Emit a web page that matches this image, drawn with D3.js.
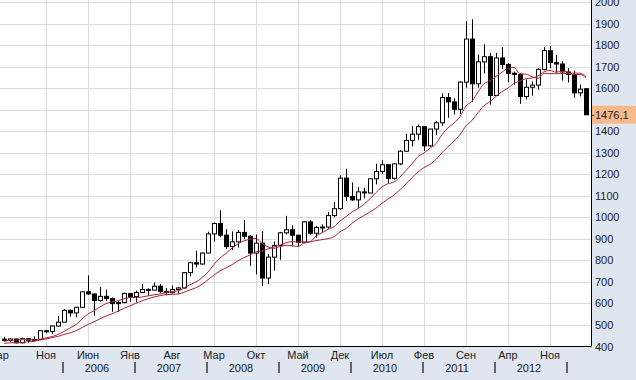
<!DOCTYPE html>
<html><head><meta charset="utf-8">
<script src="https://cdn.jsdelivr.net/npm/d3@7"></script>
<style>body{margin:0;background:#dfe6ef;}svg{display:block;font-family:"Liberation Sans",Arial,sans-serif;}</style>
</head><body>
<svg id="c" width="636" height="380"></svg>
<script>
const opens  = [434,428,435,417,436,429,433,473,470,495,513,568,556,582,654,644,614,633,623,599,604,646,632,651,665,662,680,656,650,665,672,743,789,783,834,923,971,917,864,886,930,912,834,880,718,815,869,928,942,917,884,979,926,953,955,1008,1040,1182,1097,1081,1118,1113,1179,1213,1244,1181,1248,1307,1357,1386,1421,1332,1410,1439,1556,1536,1502,1628,1828,1620,1722,1746,1566,1740,1710,1669,1664,1561,1604,1614,1687,1774,1719,1712,1675,1663,1578,1597];
const highs  = [445,438,436,441,439,447,474,477,497,541,574,572,584,654,730,646,677,664,627,613,650,647,659,690,670,697,691,671,683,676,746,794,845,837,933,975,1033,945,935,941,988,917,920,936,829,887,932,1007,963,918,982,989,961,967,1024,1071,1195,1226,1162,1141,1137,1180,1249,1265,1244,1251,1311,1388,1424,1431,1424,1411,1447,1575,1577,1553,1632,1911,1920,1755,1804,1763,1763,1791,1716,1677,1668,1640,1631,1692,1790,1796,1755,1725,1693,1681,1617,1600];
const lows   = [425,421,414,414,418,428,432,461,458,490,513,538,536,581,640,543,608,612,561,560,601,607,604,650,636,662,650,637,647,643,669,726,767,781,834,887,907,853,848,859,898,775,735,681,690,752,803,920,865,864,879,919,905,931,947,1001,1034,1076,1076,1044,1088,1112,1153,1202,1155,1175,1242,1305,1329,1360,1308,1328,1381,1425,1462,1477,1479,1602,1535,1602,1669,1523,1563,1688,1627,1616,1527,1547,1565,1592,1683,1692,1672,1635,1626,1555,1562,1476];
const closes = [428,435,417,436,429,433,473,470,495,513,568,556,582,654,644,614,633,623,599,604,646,632,651,665,662,680,656,650,665,672,743,789,783,834,923,971,917,864,886,930,912,834,880,718,815,869,928,942,917,884,979,926,953,955,1008,1040,1182,1097,1081,1118,1113,1179,1213,1244,1181,1248,1307,1357,1386,1421,1332,1410,1439,1556,1536,1502,1628,1828,1620,1722,1746,1566,1740,1710,1669,1664,1561,1604,1614,1687,1774,1719,1712,1675,1663,1578,1595,1476.1];
const maFast = [424,429,430,433,433,430,434,440,446,456,470,486,502,527,551,566,584,599,608,612,622,628,627,630,635,640,644,650,656,659,672,687,700,719,746,781,811,833,857,877,891,897,902,879,862,856,864,870,868,865,881,886,913,928,944,956,983,1003,1025,1040,1061,1086,1115,1141,1156,1164,1187,1218,1248,1282,1299,1321,1342,1384,1416,1438,1468,1517,1539,1582,1620,1634,1654,1674,1692,1696,1666,1665,1653,1646,1669,1667,1667,1668,1668,1670,1669,1653];
const maSlow = [415,417,418,419,422,424,430,435,441,447,456,463,473,488,502,515,528,542,552,564,578,589,601,612,622,630,636,641,642,644,652,663,673,689,710,732,751,765,780,798,813,825,840,844,853,862,871,882,887,885,885,886,892,896,901,910,933,948,972,992,1008,1025,1043,1065,1085,1103,1128,1155,1184,1211,1231,1246,1269,1300,1328,1354,1384,1425,1450,1486,1519,1537,1562,1584,1600,1622,1633,1644,1647,1657,1676,1682,1674,1678,1674,1662,1664,1647];
const monthLabels = [["Мар",0],["Ноя",8],["Июн",15],["Янв",22],["Авг",29],["Мар",36],["Окт",43],["Май",50],["Дек",57],["Июл",64],["Фев",71],["Сен",78],["Апр",85],["Ноя",92]];
const years = [["2006",10],["2007",22],["2008",34],["2009",46],["2010",58],["2011",70],["2012",82],["",94]];
const yTicks = [400,500,600,700,800,900,1000,1100,1200,1300,1400,1500,1600,1700,1800,1900,2000];
const lastLabel = "1476,1";

const svg = d3.select("#c");
const R = 591.5, B = 346.5;
const x = d3.scaleLinear().domain([0,97]).range([4,586]);
const y = d3.scaleLinear().domain([400,2000]).range([B,2]);
svg.append("rect").attr("x",0).attr("y",0).attr("width",R).attr("height",B).attr("fill","#fff");
const g = svg.append("g");
g.selectAll(".hg").data(yTicks.slice(1)).join("line").attr("x1",0).attr("x2",R).attr("y1",d=>Math.round(y(d))+0.5).attr("y2",d=>Math.round(y(d))+0.5).attr("stroke","#dcdcdc");
g.selectAll(".vg").data(monthLabels).join("line").attr("x1",d=>x(d[1]-1)+0.5).attr("x2",d=>x(d[1]-1)+0.5).attr("y1",0).attr("y2",B).attr("stroke","#dcdcdc");

closes.forEach((c,i)=>{
  const o=opens[i], up=c>=o, cx=Math.round(x(i))+0.5;
  g.append("line").attr("x1",cx).attr("x2",cx).attr("y1",y(highs[i])).attr("y2",y(lows[i])).attr("stroke","#000");
  const t=Math.min(y(o),y(c)), h=Math.max(1,Math.abs(y(o)-y(c)));
  g.append("rect").attr("x",cx-2).attr("y",t).attr("width",4).attr("height",h).attr("fill",up?"#fff":"#000").attr("stroke","#000").attr("stroke-width",1);
});
const line = d3.line().x((d,i)=>x(i)).y(d=>y(d)).curve(d3.curveMonotoneX);
[maSlow, maFast].forEach(m=>g.append("path").attr("d",line(m)).attr("fill","none").attr("stroke","#a8283a").attr("stroke-width",1));

svg.append("line").attr("x1",R).attr("x2",R).attr("y1",0).attr("y2",B).attr("stroke","#000");
svg.append("line").attr("x1",0).attr("x2",R).attr("y1",B).attr("y2",B).attr("stroke","#000");
svg.selectAll(".yl").data(yTicks.filter(d=>Math.abs(y(d)-y(1476.1))>12)).join("text").attr("x",595).attr("y",d=>y(d)+4).attr("font-size",11).attr("fill","#222").text(d=>d);
svg.append("rect").attr("x",R+0.5).attr("y",y(1476.1)-9).attr("width",50).attr("height",18).attr("fill","#f8b98b");
svg.append("line").attr("x1",R).attr("x2",R+3).attr("y1",Math.round(y(1476.1))+0.5).attr("y2",Math.round(y(1476.1))+0.5).attr("stroke","#333");
svg.append("text").attr("x",595).attr("y",y(1476.1)+4).attr("font-size",11).attr("fill","#222").text(lastLabel);
svg.selectAll(".ml").data(monthLabels).join("text").attr("x",d=>x(d[1]-1)).attr("y",359).attr("text-anchor","middle").attr("font-size",11).attr("fill","#222").text(d=>d[0]);
svg.selectAll(".ys").data(years).join("line").attr("x1",d=>x(d[1])-1).attr("x2",d=>x(d[1])-1).attr("y1",362).attr("y2",373).attr("stroke","#222").attr("stroke-width",1.3);
svg.selectAll(".yt").data(years).join("text").attr("x",d=>x(d[1])+33).attr("y",372).attr("text-anchor","middle").attr("font-size",11).attr("fill","#222").text(d=>d[0]);
</script></body></html>
